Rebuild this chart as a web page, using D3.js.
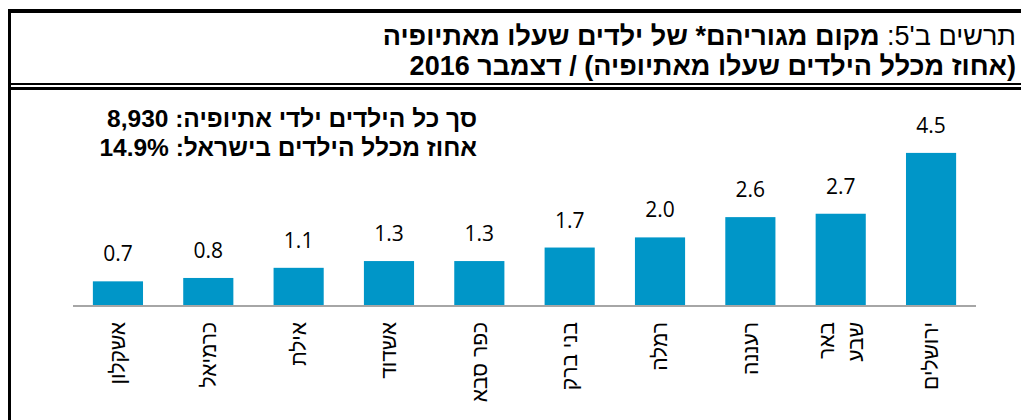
<!DOCTYPE html>
<html>
<head>
<meta charset="utf-8">
<script src="https://cdn.jsdelivr.net/npm/d3@7"></script>
<style>
  body { margin: 0; background: #fff; }
  svg { display: block; }
</style>
</head>
<body>
<div id="chart"></div>
<script>
// chart data, ordered left to right as in the picture
var cities = ["אשקלון", "כרמיאל", "אילת", "אשדוד", "כפר סבא", "בני ברק", "רמלה", "רעננה", "באר שבע", "ירושלים"];
var shares = [0.7, 0.8, 1.1, 1.3, 1.3, 1.7, 2.0, 2.6, 2.7, 4.5];
// labels that wrap onto two lines
var cityLines = { "באר שבע": ["באר", "שבע"] };

var titlePrefix = "תרשים ב'5: ";
var titleMain = "מקום מגוריהם* של ילדים שעלו מאתיופיה";
var titleLine2 = "(אחוז מכלל הילדים שעלו מאתיופיה) / דצמבר 2016";
var noteLines = ["סך כל הילדים ילדי אתיופיה: 8,930", "אחוז מכלל הילדים בישראל: 14.9%"];

var width = 1021;
var height = 420;
var data = cities.map(function (c, i) { return { city: c, value: shares[i] }; });

var svg = d3.select("#chart")
  .append("svg")
  .attr("width", width)
  .attr("height", height);

// frame lines
svg.append("rect").attr("x", 8).attr("y", 9).attr("width", width - 8).attr("height", 4).attr("fill", "#000");
svg.append("rect").attr("x", 8).attr("y", 9).attr("width", 3).attr("height", height - 9).attr("fill", "#000");
svg.append("rect").attr("x", 8).attr("y", 83).attr("width", width - 8).attr("height", 2).attr("fill", "#000");
svg.append("rect").attr("x", 8).attr("y", 87).attr("width", width - 8).attr("height", 3).attr("fill", "#000");

// title
var title = svg.append("text")
  .attr("x", 1016)
  .attr("y", 45)
  .attr("direction", "rtl")
  .attr("text-anchor", "start")
  .style("font-family", "'Liberation Sans', Arial, sans-serif")
  .style("font-size", "27px");
title.append("tspan").text(titlePrefix);
title.append("tspan").style("font-weight", "bold").text(titleMain);

svg.append("text")
  .attr("x", 1016)
  .attr("y", 75)
  .attr("direction", "rtl")
  .attr("text-anchor", "start")
  .style("font-family", "'Liberation Sans', Arial, sans-serif")
  .style("font-size", "27px")
  .style("font-weight", "bold")
  .text(titleLine2);

// note block
svg.selectAll(".note")
  .data(noteLines)
  .enter()
  .append("text")
  .attr("class", "note")
  .attr("x", 477)
  .attr("y", (d, i) => 127 + i * 29)
  .attr("direction", "rtl")
  .attr("text-anchor", "start")
  .style("font-family", "'Liberation Sans', Arial, sans-serif")
  .style("font-size", "24.5px")
  .style("font-weight", "bold")
  .text(d => d);

// scales
var x = d3.scaleBand()
  .domain(cities)
  .range([73, 976])
  .paddingInner(0.445)
  .paddingOuter(0.22);

var y = d3.scaleLinear()
  .domain([0, 5])
  .range([305, 136]);

// bars
svg.selectAll(".bar")
  .data(data)
  .enter()
  .append("rect")
  .attr("class", "bar")
  .attr("x", d => x(d.city))
  .attr("y", d => y(d.value))
  .attr("width", x.bandwidth())
  .attr("height", d => y(0) - y(d.value))
  .style("fill", "#0096c8");

// value labels
svg.selectAll(".val")
  .data(data)
  .enter()
  .append("text")
  .attr("class", "val")
  .attr("x", d => x(d.city) + x.bandwidth() / 2)
  .attr("y", d => y(d.value) - 20)
  .attr("text-anchor", "middle")
  .style("font-family", "'Open Sans', 'DejaVu Sans', sans-serif")
  .style("font-size", "21px")
  .style("fill", "#000")
  .text(d => d.value.toFixed(1));

// x axis line
svg.append("line")
  .attr("x1", 73).attr("x2", 976)
  .attr("y1", y(0) + 1).attr("y2", y(0) + 1)
  .style("stroke", "#a6a6a6")
  .style("stroke-width", 2);

// rotated city labels
var labels = svg.selectAll(".city")
  .data(data)
  .enter()
  .append("g")
  .attr("class", "city")
  .attr("transform", d => "translate(" + (x(d.city) + x.bandwidth() / 2) + ",322) rotate(-90)");

labels.each(function (d) {
  var lines = cityLines[d.city] || [d.city];
  var g = d3.select(this);
  lines.forEach(function (line, i) {
    g.append("text")
      .attr("x", 0)
      .attr("y", (i - (lines.length - 1) / 2) * 29)
      .attr("dy", "0.35em")
      .attr("text-anchor", "end")
      .style("font-family", "'Liberation Sans', Arial, sans-serif")
      .style("font-size", "21px")
      .style("fill", "#000")
      .text(line);
  });
});
</script>
</body>
</html>
